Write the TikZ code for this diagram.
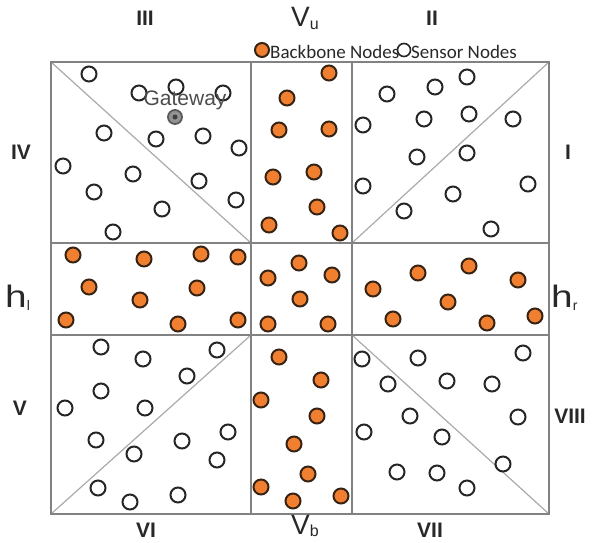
\documentclass[tikz,border=0pt]{standalone}
\usepackage{fontspec}
\setmainfont{Liberation Sans}
\newfontfamily\legendfont{Carlito}
\definecolor{bbfill}{RGB}{240,128,48}
\definecolor{bbdraw}{RGB}{55,35,20}
\definecolor{framecol}{RGB}{130,130,130}
\definecolor{diagcol}{RGB}{170,170,170}
\definecolor{labcol}{RGB}{40,40,40}
\begin{document}
\begin{tikzpicture}[x=1pt,y=-1pt,
  sensor/.style={circle,draw=black!85,fill=white,line width=2pt,minimum size=15pt,inner sep=0pt},
  backbone/.style={circle,draw=bbdraw,fill=bbfill,line width=2pt,minimum size=15pt,inner sep=0pt},
  gateway/.style={circle,draw=black!65,fill=gray!85,line width=1.8pt,minimum size=14pt,inner sep=0pt,
    path picture={\fill[black!75] (path picture bounding box.center) circle (2.5pt);}},
  framestyle/.style={draw=framecol,line width=2pt},
  diagstyle/.style={draw=diagcol,line width=1.2pt},
  numeral/.style={font=\fontsize{21}{21}\selectfont\bfseries,text=labcol,inner sep=0pt},
  axislab/.style={font=\fontsize{28}{28}\selectfont,text=labcol,inner sep=0pt,anchor=base west},
  legendtext/.style={font=\legendfont\fontsize{19}{19}\selectfont,text=labcol,inner sep=0pt,anchor=base west}
]
\useasboundingbox (0,0) rectangle (593,542);
% grid coordinates
\coordinate (TL) at (51,62);
\coordinate (TR) at (549,62);
\coordinate (BL) at (51,514);
\coordinate (BR) at (549,514);
\coordinate (c1t) at (251,62);
\coordinate (c1b) at (251,514);
\coordinate (c2t) at (352,62);
\coordinate (c2b) at (352,514);
\coordinate (r1l) at (51,243);
\coordinate (r1r) at (549,243);
\coordinate (r2l) at (51,335);
\coordinate (r2r) at (549,335);
\coordinate (x11) at (251,243);
\coordinate (x21) at (352,243);
\coordinate (x12) at (251,335);
\coordinate (x22) at (352,335);
% diagonals
\draw[diagstyle] (TL) -- (x11);
\draw[diagstyle] (x21) -- (TR);
\draw[diagstyle] (BL) -- (x12);
\draw[diagstyle] (x22) -- (BR);
% frame
\draw[framestyle] (TL) rectangle (BR);
\draw[framestyle] (c1t) -- (c1b);
\draw[framestyle] (c2t) -- (c2b);
\draw[framestyle] (r1l) -- (r1r);
\draw[framestyle] (r2l) -- (r2r);
% sensor nodes
\foreach \p [count=\i] in {(89,74),(139,93),(176,87),(223,93),(104,133),(156,139),(203,136),(239,148),
  (63,166),(133,174),(199,181),(94,192),(236,200),(162,209),(113,232)}
  \node[sensor] (sa\i) at \p {};
\foreach \p [count=\i] in {(467,77),(387,94),(435,87),(363,125),(424,119),(469,114),(513,119),
  (417,157),(467,153),(363,186),(453,194),(528,184),(404,211),(491,229)}
  \node[sensor] (sb\i) at \p {};
\foreach \p [count=\i] in {(101,347),(143,359),(217,350),(187,376),(101,391),(65,408),(145,408),
  (96,440),(182,441),(228,432),(134,454),(217,460),(98,488),(130,502),(178,495)}
  \node[sensor] (sc\i) at \p {};
\foreach \p [count=\i] in {(362,359),(418,358),(523,353),(388,384),(447,381),(492,384),(410,416),
  (518,417),(364,432),(442,437),(397,472),(437,473),(503,464),(467,488)}
  \node[sensor] (sd\i) at \p {};
% backbone nodes
\foreach \p [count=\i] in {(329,73),(287,98),(279,130),(329,129),(273,177),(314,172),(317,207),(269,225),(340,233),
  (299,263),(268,278),(332,275),(300,299),(268,324),(328,324),
  (279,357),(321,380),(261,400),(317,416),(294,444),(308,474),(261,487),(293,501),(341,496),
  (73,255),(144,259),(201,254),(238,257),(89,287),(197,288),(140,300),(66,320),(178,324),(238,320),
  (373,289),(418,273),(469,266),(518,280),(448,302),(393,319),(487,323),(535,316)}
  \node[backbone] (b\i) at \p {};
% gateway
\node[gateway] (gw) at (175,117) {};
\node[font=\fontsize{21}{21}\selectfont,text=black!70,inner sep=0pt] (gwlabel) at (185,100) {Gateway};
% legend
\node[backbone,minimum size=14pt] (legbb) at (262,50) {};
\node[legendtext] (legbbt) at (270,58) {Backbone Nodes};
\node[sensor,minimum size=13pt,line width=1.6pt] (legsn) at (404,50) {};
\node[legendtext] (legsnt) at (411,58) {Sensor Nodes};
% region numerals
\node[numeral] (nIII) at (145,18) {III};
\node[numeral] (nII) at (432,18) {II};
\node[numeral] (nIV) at (21,152) {IV};
\node[numeral] (nI) at (568,152) {I};
\node[numeral] (nV) at (20,408) {V};
\node[numeral] (nVIII) at (570,416) {VIII};
\node[numeral] (nVI) at (146,530) {VI};
\node[numeral] (nVII) at (430,530) {VII};
% axis labels
\node[axislab] (vu) at (291,26) {V\raisebox{-3pt}{\fontsize{16}{16}\selectfont u}};
\node[axislab] (vb) at (291,534) {V\raisebox{-2pt}{\fontsize{16}{16}\selectfont b}};
\node[axislab,font=\fontsize{31}{31}\selectfont] (hl) at (5,307) {\scalebox{1.25}[1]{h}\raisebox{-3pt}{\fontsize{14}{14}\selectfont l}};
\node[axislab,font=\fontsize{31}{31}\selectfont] (hr) at (551,307) {\scalebox{1.25}[1]{h}\raisebox{-3pt}{\fontsize{14}{14}\selectfont r}};
\end{tikzpicture}
\end{document}
